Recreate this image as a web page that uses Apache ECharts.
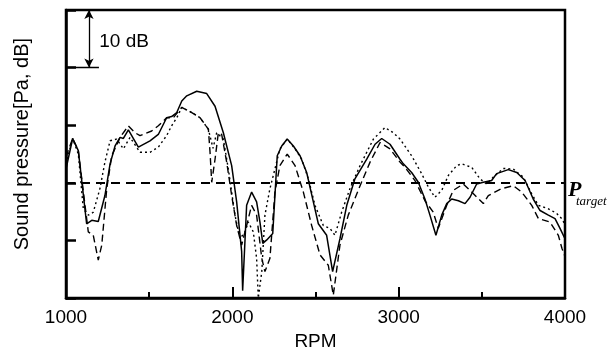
<!DOCTYPE html>
<html>
<head>
<meta charset="utf-8">
<script src="https://cdn.jsdelivr.net/npm/echarts@6/dist/echarts.min.js"></script>
<style>
html,body{margin:0;padding:0;background:#fff;}
#c{width:613px;height:356px;}
</style>
</head>
<body>
<div id="c"></div>
<script>
// X tick labels (RPM)
var xTicks = [1000, 2000, 3000, 4000];
// Solid series (RPM, dB relative to P_target)
var solidRpm = [1000,1040,1074,1124,1155,1194,1234,1265,1295,1325,1345,1375,1435,1505,1555,1605,1635,1666,1696,1726,1786,1846,1896,1946,1996,2026,2056,2062,2086,2116,2146,2166,2183,2207,2243,2270,2297,2330,2367,2407,2447,2487,2517,2567,2603,2647,2688,2737,2808,2858,2898,2948,3008,3028,3078,3118,3158,3188,3224,3259,3289,3319,3359,3399,3429,3469,3509,3559,3589,3659,3710,3760,3809,3850,3900,3940,3970,4000];
var solidDb  = [2.4,7.7,5.6,-7.1,-6.5,-6.7,-2.2,3.3,6.4,7.9,7.7,9.2,6.2,7.3,8.4,11.3,11.5,12.2,14.2,15.1,15.9,15.5,13.3,8.7,3.0,-3.3,-11.9,-18.7,-3.9,-1.6,-3.3,-6.8,-10.5,-9.9,-8.8,4.7,6.4,7.6,6.4,4.7,1.8,-3.3,-7.1,-9.1,-15.4,-9.7,-3.9,0.7,4.1,6.7,7.7,6.7,4.1,3.3,1.8,0.1,-2.8,-5.6,-9.1,-5.6,-3.6,-2.8,-3.1,-3.6,-2.5,-0.2,0.1,0.4,1.6,2.3,1.8,0.4,-2.8,-4.8,-5.6,-6.2,-7.9,-9.7];
// Dashed series
var dashRpm = [1000,1040,1074,1134,1164,1194,1215,1245,1275,1325,1375,1415,1445,1515,1555,1605,1645,1696,1756,1806,1856,1866,1876,1896,1916,1936,1966,1996,2026,2056,2086,2116,2146,2177,2196,2226,2256,2286,2330,2377,2427,2477,2527,2577,2607,2647,2697,2768,2828,2888,2948,3008,3038,3098,3158,3208,3238,3289,3328,3389,3439,3509,3539,3619,3689,3740,3800,3840,3910,3960,3982,4000];
var dashDb  = [4.5,7.7,5.6,-8.5,-9.1,-13.4,-10.8,-1.0,4.7,7.9,9.9,8.7,8.2,9.0,9.9,11.3,11.3,13.1,12.2,11.3,9.3,5.3,0.1,4.1,8.7,8.4,3.6,-2.2,-7.4,-10.8,-7.4,-3.9,-5.6,-13.1,-15.4,-13.1,-1.6,3.0,5.0,3.0,-1.6,-7.4,-12.5,-14.3,-19.5,-10.8,-5.6,-0.5,3.6,7.0,5.9,3.6,2.7,0.4,-3.1,-5.1,-7.9,-3.9,-1.3,-0.2,-1.6,-3.6,-2.2,-1.0,-0.5,-1.6,-3.9,-6.2,-6.8,-9.1,-11.4,-12.8];
// Dotted series
var dotRpm = [1000,1040,1074,1104,1134,1164,1204,1234,1265,1305,1345,1385,1445,1505,1555,1605,1635,1666,1696,1756,1806,1856,1884,1906,1946,1976,2016,2046,2076,2096,2126,2146,2156,2177,2196,2226,2256,2286,2330,2377,2417,2457,2497,2547,2587,2617,2657,2707,2768,2848,2918,2968,3008,3078,3138,3178,3218,3259,3299,3349,3379,3439,3489,3529,3569,3629,3689,3749,3800,3840,3900,3950,3980,4000];
var dotDb  = [3.3,7.7,5.0,-4.5,-5.6,-5.1,-1.0,3.6,7.3,7.6,5.9,7.9,5.3,5.3,6.2,8.2,9.9,11.3,13.1,12.2,11.3,9.3,6.0,8.7,7.6,2.4,-5.6,-9.7,-8.5,-6.8,-8.5,-13.1,-20,-15.4,-5.6,-1.0,2.4,5.9,7.6,5.9,4.1,0.7,-3.9,-7.4,-7.9,-9.1,-5.1,-1.0,3.0,7.6,9.6,8.7,7.6,4.7,1.6,-0.7,-2.5,-1.3,1.3,3.0,3.3,2.7,0.7,-0.2,1.0,2.5,2.4,1.0,-1.9,-3.9,-4.5,-5.3,-6.2,-7.2];
// Annotation values
var targetDb = 0;
var scaleBarRpm = 1138;
var scaleBarTop = 30, scaleBarBottom = 20;

function zip(a, b) { return a.map(function (v, i) { return [v, b[i]]; }); }

var chart = echarts.init(document.getElementById('c'), null, {renderer: 'canvas'});
var FONT = 'Liberation Sans, Arial, sans-serif';
var option = {
  animation: false,
  grid: {left: 66, right: 48, top: 10, bottom: 54, show: true, borderColor: '#000', borderWidth: 2.5, backgroundColor: 'transparent'},
  xAxis: [{
    type: 'value', min: 1000, max: 4000, interval: 500,
    name: 'RPM', nameLocation: 'middle', nameGap: 30,
    nameTextStyle: {fontFamily: FONT, fontSize: 19, color: '#000'},
    axisLine: {show: true, onZero: false, lineStyle: {color: '#000', width: 2.5}},
    axisTick: {show: true, inside: true, length: 6, lineStyle: {color: '#000', width: 2}},
    axisLabel: {margin: 10, fontFamily: FONT, fontSize: 19, color: '#000',
      formatter: function (v) { return xTicks.indexOf(v) >= 0 ? String(v) : ''; }},
    splitLine: {show: false}
  }, {
    type: 'value', min: 1000, max: 4000, interval: 1000, position: 'bottom',
    axisLine: {show: false, onZero: false},
    axisTick: {show: true, inside: true, length: 11, lineStyle: {color: '#000', width: 2}},
    axisLabel: {show: false}, splitLine: {show: false}
  }],
  yAxis: {
    type: 'value', min: -20, max: 30, interval: 10,
    name: 'Sound pressure[Pa, dB]', nameLocation: 'middle', nameGap: 34,
    nameTextStyle: {fontFamily: FONT, fontSize: 20, color: '#000', padding: [0, 0, 0, 20]},
    axisLine: {show: true, onZero: false, lineStyle: {color: '#000', width: 2.5}},
    axisTick: {show: true, inside: true, length: 10, lineStyle: {color: '#000', width: 2.5}},
    axisLabel: {show: false},
    splitLine: {show: false}
  },
  series: [{
    name: 'solid', type: 'line', data: zip(solidRpm, solidDb), showSymbol: false, symbol: 'none',
    lineStyle: {color: '#000', width: 1.5, type: 'solid'},
    markLine: {
      silent: true, symbol: 'none',
      data: [
        [{coord: [1000, targetDb]}, {coord: [4000, targetDb]}]
      ],
      lineStyle: {color: '#000', width: 2, type: [9, 6]},
      label: {show: false}
    }
  }, {
    name: 'dashed', type: 'line', data: zip(dashRpm, dashDb), showSymbol: false, symbol: 'none',
    lineStyle: {color: '#000', width: 1.4, type: [7, 4]}
  }, {
    name: 'dotted', type: 'line', data: zip(dotRpm, dotDb), showSymbol: false, symbol: 'none',
    lineStyle: {color: '#000', width: 1.4, type: [2, 3]}
  }, {
    name: 'annot', type: 'line', data: [],
    markLine: {
      silent: true, symbol: ['arrow', 'arrow'], symbolSize: [7, 9],
      data: [
        [{coord: [scaleBarRpm, scaleBarTop]}, {coord: [scaleBarRpm, scaleBarBottom]}]
      ],
      lineStyle: {color: '#000', width: 1.3, type: 'solid'},
      label: {show: false}
    },
    markPoint: {
      silent: true, symbol: 'circle', symbolSize: 0,
      data: [{coord: [1200, 24.5], value: '10 dB'}],
      label: {show: true, position: 'right', distance: 0, formatter: '10 dB', fontFamily: FONT, fontSize: 19, color: '#000'}
    }
  }, {
    name: 'annot2', type: 'line', data: [],
    markLine: {
      silent: true, symbol: 'none',
      data: [[{coord: [1000, scaleBarBottom]}, {coord: [1198, scaleBarBottom]}]],
      lineStyle: {color: '#000', width: 1.3, type: 'solid'},
      label: {show: false}
    }
  }]
};
chart.setOption(option);
var p = chart.convertToPixel({gridIndex: 0}, [4000, targetDb]);
chart.setOption({
  graphic: [{
    type: 'text', left: p[0] + 3, top: p[1] - 4,
    style: {text: 'P', font: 'italic bold 22px "Liberation Serif", serif', fill: '#000', textVerticalAlign: 'middle'}
  }, {
    type: 'text', left: p[0] + 11, top: p[1] + 12,
    style: {text: 'target', font: 'italic 13px "Liberation Serif", serif', fill: '#000', textVerticalAlign: 'middle'}
  }]
});
</script>
</body>
</html>
